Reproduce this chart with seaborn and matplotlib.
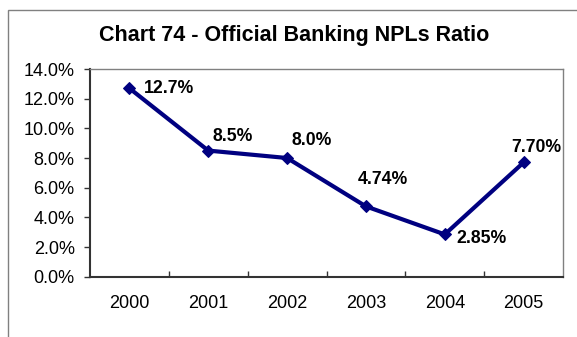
import matplotlib
matplotlib.use("Agg")
import matplotlib.pyplot as plt
from matplotlib.patches import Rectangle
from matplotlib.ticker import FuncFormatter, FixedLocator
import seaborn as sns
import pandas as pd

years = ["2000", "2001", "2002", "2003", "2004", "2005"]
npl_ratio = [12.7, 8.5, 8.0, 4.74, 2.85, 7.70]
point_labels = ["12.7%", "8.5%", "8.0%", "4.74%", "2.85%", "7.70%"]
# label offsets in pixels (dx, dy) relative to each point
label_offsets = [(40, 0), (24, 14), (25, 18), (17, 27), (37, -4), (13, 15)]

sns.set_theme(style="white")
plt.rcParams["font.family"] = ["Liberation Sans", "DejaVu Sans"]

df = pd.DataFrame({"year": years, "ratio": npl_ratio})

fig = plt.figure(figsize=(5.77, 3.37), dpi=100)
ax = fig.add_axes([90 / 577, 1 - 276.7 / 337, 473 / 577, 207.7 / 337])

navy = "#000080"
sns.lineplot(data=df, x="year", y="ratio", ax=ax, color=navy, linewidth=3,
             marker="D", markersize=6, markeredgecolor=navy, sort=False)

for i, (lab, (dx, dy)) in enumerate(zip(point_labels, label_offsets)):
    ax.annotate(lab, (i, npl_ratio[i]), xytext=(dx, dy), textcoords="offset pixels",
                ha="center", va="center", fontsize=12.7, fontweight="bold", color="black")

ax.set_xlim(-0.5, len(years) - 0.5)
ax.set_ylim(0, 14)
ax.yaxis.set_major_locator(FixedLocator([0, 2, 4, 6, 8, 10, 12, 14]))
ax.yaxis.set_major_formatter(FuncFormatter(lambda v, _: f"{v:.1f}%"))
ax.set_xticks(range(len(years)))
ax.set_xticklabels(years)
ax.xaxis.set_minor_locator(FixedLocator([i + 0.5 for i in range(len(years) - 1)]))
ax.tick_params(axis="x", which="major", length=0, pad=13, labelsize=13, colors="black")
ax.tick_params(axis="x", which="minor", direction="in", length=4, width=1, color="#333333", bottom=True)
ax.tick_params(axis="y", which="major", direction="out", length=4, width=1, color="#333333",
               pad=7, labelsize=13, left=True, labelcolor="black")
ax.set_xlabel("")
ax.set_ylabel("")
ax.grid(False)

for side in ["left", "bottom"]:
    ax.spines[side].set_color("#333333")
    ax.spines[side].set_linewidth(1.5)
for side in ["top", "right"]:
    ax.spines[side].set_color("#808080")
    ax.spines[side].set_linewidth(1)

fig.text(294 / 577, 1 - 36 / 337, "Chart 74 - Official Banking NPLs Ratio",
         ha="center", va="center", fontsize=15.5, fontweight="bold", color="black")

# outer chart frame (cropped at right and bottom)
fig.patches.append(Rectangle((8 / 577, -0.2), 1.1, 1.2 - 10 / 337,
                             transform=fig.transFigure, fill=False,
                             edgecolor="#808080", linewidth=1))

fig.savefig("out.png", dpi=100)
